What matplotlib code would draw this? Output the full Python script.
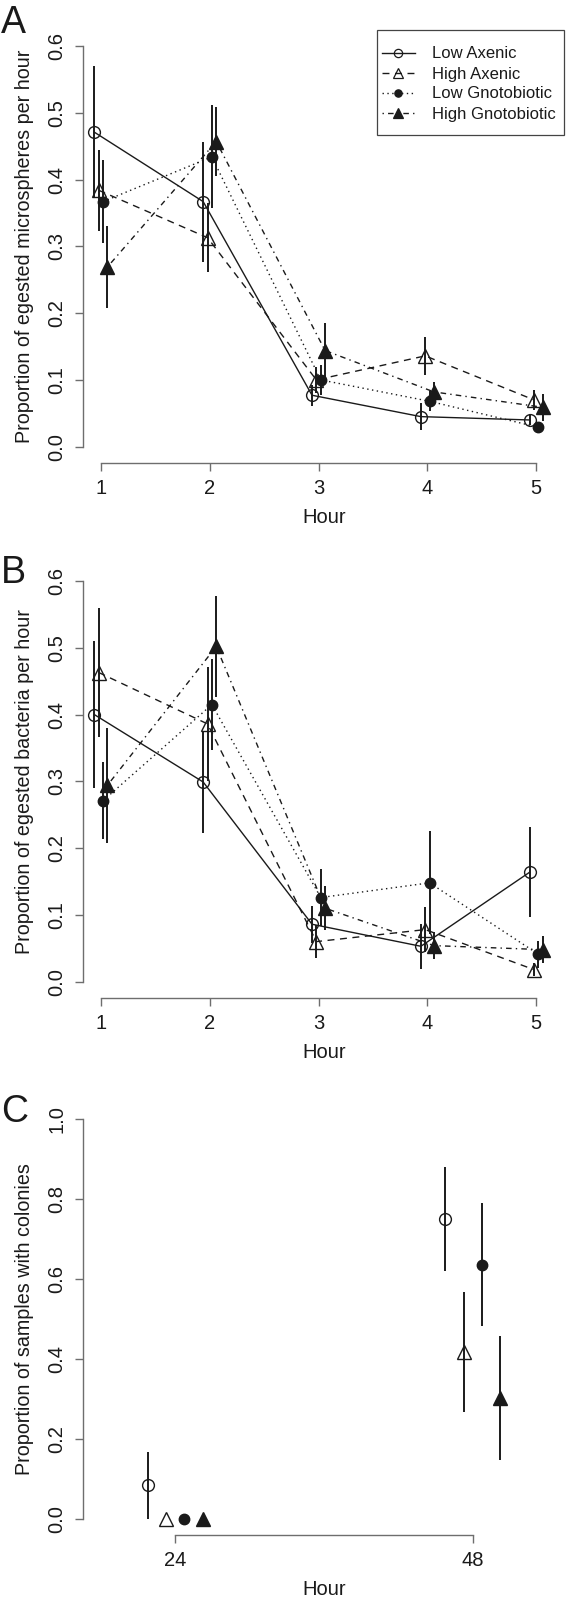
import matplotlib.pyplot as plt
from matplotlib.lines import Line2D
from matplotlib.patches import Rectangle

plt.rcParams['font.family'] = ['Liberation Sans', 'DejaVu Sans']

# ---- data ----
groups = ['Low Axenic', 'High Axenic', 'Low Gnotobiotic', 'High Gnotobiotic']

hours = [1, 2, 3, 4, 5]
hour_offsets = [-0.06, -0.02, 0.02, 0.06]

# A: microspheres
micro_low_axenic = [0.471, 0.367, 0.077, 0.045, 0.040]
micro_low_axenic_se = [0.099, 0.090, 0.016, 0.020, 0.008]
micro_high_axenic = [0.384, 0.313, 0.100, 0.136, 0.070]
micro_high_axenic_se = [0.061, 0.052, 0.020, 0.028, 0.015]
micro_low_gnoto = [0.367, 0.434, 0.100, 0.068, 0.029]
micro_low_gnoto_se = [0.062, 0.077, 0.022, 0.015, 0.007]
micro_high_gnoto = [0.269, 0.457, 0.144, 0.082, 0.059]
micro_high_gnoto_se = [0.061, 0.052, 0.041, 0.015, 0.020]

# B: bacteria
bact_low_axenic = [0.400, 0.299, 0.086, 0.053, 0.164]
bact_low_axenic_se = [0.110, 0.077, 0.028, 0.034, 0.067]
bact_high_axenic = [0.463, 0.386, 0.060, 0.078, 0.018]
bact_high_axenic_se = [0.097, 0.085, 0.025, 0.034, 0.010]
bact_low_gnoto = [0.271, 0.415, 0.126, 0.148, 0.041]
bact_low_gnoto_se = [0.058, 0.068, 0.043, 0.077, 0.020]
bact_high_gnoto = [0.294, 0.502, 0.110, 0.054, 0.048]
bact_high_gnoto_se = [0.086, 0.075, 0.033, 0.020, 0.020]

# C: colonies
colony_hours = [24, 48]
colony_offsets = [-2.2, -0.73, 0.73, 2.2]
colony_low_axenic = [0.084, 0.750]
colony_low_axenic_se = [0.084, 0.131]
colony_high_axenic = [0.0, 0.418]
colony_high_axenic_se = [0.0, 0.150]
colony_low_gnoto = [0.0, 0.636]
colony_low_gnoto_se = [0.0, 0.153]
colony_high_gnoto = [0.0, 0.303]
colony_high_gnoto_se = [0.0, 0.155]

# ---- styles ----
ink = '#1a1a1a'
axis_col = '#6e6e6e'
line_styles = ['-', (0, (5, 4)), (0, (1, 2.5)), (0, (1, 3, 4, 3))]
markers = ['o', '^', 'o', '^']
marker_sizes = [8.5, 9.5, 7.5, 9.5]
face = ['none', 'none', ink, ink]

W, H = 566, 1598
fig = plt.figure(figsize=(W / 100, H / 100), dpi=100)


def make_axes(top, bottom):
    return fig.add_axes([83 / W, 1 - bottom / H, (565 - 83) / W, (bottom - top) / H])


def draw_series(ax, xs, offsets, values, errors, connect=True):
    for i in range(len(values)):
        xx = [x + offsets[i] for x in xs]
        yy = values[i]
        ee = errors[i]
        if connect:
            ax.plot(xx, yy, color=ink, lw=1.0, linestyle=line_styles[i], zorder=2)
        ax.vlines(xx, [y - e for y, e in zip(yy, ee)], [y + e for y, e in zip(yy, ee)],
                  color=ink, lw=1.4, zorder=3)
        ax.plot(xx, yy, linestyle='none', marker=markers[i], ms=marker_sizes[i],
                mfc=face[i], mec=ink, mew=1.0, zorder=4)


def style_axes(ax, xlim, ylim, xticks, yticks, ylabel_text, ytick_fmt):
    ax.set_xlim(*xlim)
    ax.set_ylim(*ylim)
    for s in ['top', 'right']:
        ax.spines[s].set_visible(False)
    for s in ['left', 'bottom']:
        ax.spines[s].set_color(axis_col)
        ax.spines[s].set_linewidth(1.0)
    ax.spines['left'].set_bounds(yticks[0], yticks[-1])
    ax.spines['bottom'].set_bounds(xticks[0], xticks[-1])
    ax.set_xticks(xticks)
    ax.set_xticklabels([str(t) for t in xticks])
    ax.set_yticks(yticks)
    ax.set_yticklabels([ytick_fmt.format(t) for t in yticks], rotation=90, va='center')
    ax.tick_params(axis='both', length=5.8, width=1.0, color=axis_col,
                   labelsize=14.5, labelcolor=ink)
    ax.tick_params(axis='x', pad=6)
    ax.tick_params(axis='y', pad=6)
    ax.set_xlabel('Hour', fontsize=14.5, color=ink, labelpad=7)
    ax.set_ylabel(ylabel_text, fontsize=14.2, color=ink, labelpad=10)
    ax.patch.set_alpha(0)


# Panel A
axA = make_axes(30, 462.7)
draw_series(axA, hours, hour_offsets,
            [micro_low_axenic, micro_high_axenic, micro_low_gnoto, micro_high_gnoto],
            [micro_low_axenic_se, micro_high_axenic_se, micro_low_gnoto_se, micro_high_gnoto_se])
style_axes(axA, (0.836, 5.264), (-0.024, 0.624), hours, [0.0, 0.1, 0.2, 0.3, 0.4, 0.5, 0.6],
           'Proportion of egested microspheres per hour', '{:.1f}')

# legend: box drawn separately, entries placed inside it
fig.patches.append(Rectangle((376.7 / W, 1 - 135 / H), (564 - 376.7) / W, 105 / H,
                             transform=fig.transFigure, fill=False,
                             edgecolor='#444444', lw=0.9, zorder=5))
handles = []
for i in range(4):
    handles.append(Line2D([0], [0], color=ink, lw=1.0, linestyle=line_styles[i],
                          marker=markers[i], ms=marker_sizes[i] * 0.7, mfc=face[i],
                          mec=ink, mew=0.9))
leg = fig.legend(handles, groups, loc='upper left',
                 bbox_to_anchor=(381.7 / W, 1 - 46.5 / H),
                 fontsize=12, frameon=False, borderaxespad=0, borderpad=0,
                 handlelength=2.0, handletextpad=1.0, labelspacing=0.3)
for t in leg.get_texts():
    t.set_color(ink)

# Panel B
axB = make_axes(565, 997.7)
draw_series(axB, hours, hour_offsets,
            [bact_low_axenic, bact_high_axenic, bact_low_gnoto, bact_high_gnoto],
            [bact_low_axenic_se, bact_high_axenic_se, bact_low_gnoto_se, bact_high_gnoto_se])
style_axes(axB, (0.836, 5.264), (-0.024, 0.624), hours, [0.0, 0.1, 0.2, 0.3, 0.4, 0.5, 0.6],
           'Proportion of egested bacteria per hour', '{:.1f}')

# Panel C
axC = make_axes(1103, 1535)
draw_series(axC, colony_hours, colony_offsets,
            [colony_low_axenic, colony_high_axenic, colony_low_gnoto, colony_high_gnoto],
            [colony_low_axenic_se, colony_high_axenic_se, colony_low_gnoto_se, colony_high_gnoto_se],
            connect=False)
style_axes(axC, (16.56, 55.44), (-0.04, 1.04), colony_hours, [0.0, 0.2, 0.4, 0.6, 0.8, 1.0],
           'Proportion of samples with colonies', '{:.1f}')

# panel letters
for letter, base in [('A', 33), ('B', 583), ('C', 1122)]:
    fig.text(1 / W, 1 - base / H, letter, fontsize=27, color=ink, ha='left', va='baseline')

fig.savefig('out.png', dpi=100)
